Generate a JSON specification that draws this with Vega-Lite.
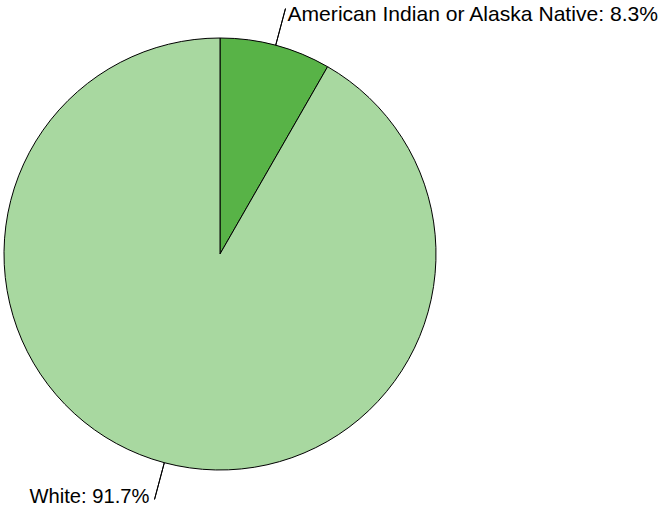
{
  "$schema": "https://vega.github.io/schema/vega-lite/v6.json",
  "autosize": "none",
  "width": 440,
  "height": 508,
  "padding": {"left": 0, "top": 0, "right": 221, "bottom": 0},
  "background": "white",
  "config": {"view": {"stroke": null}},
  "data": {
    "values": [
      {"category": "American Indian or Alaska Native", "percent": 8.3, "label": "American Indian or Alaska Native: 8.3%"},
      {"category": "White", "percent": 91.7, "label": "White: 91.7%"}
    ]
  },
  "transform": [
    {"stack": "percent", "groupby": [], "as": ["start", "end"], "sort": [{"field": "category", "order": "ascending"}]},
    {"calculate": "(datum.start + datum.end) / 2", "as": "mid"}
  ],
  "layer": [
    {
      "mark": {"type": "arc", "outerRadius": 216, "stroke": "black", "strokeWidth": 1},
      "encoding": {
        "theta": {"field": "start", "type": "quantitative", "scale": {"domain": [0, 100]}},
        "theta2": {"field": "end"},
        "color": {"field": "category", "type": "nominal", "legend": null,
          "scale": {"domain": ["American Indian or Alaska Native", "White"], "range": ["#58b347", "#a8d8a0"]}}
      }
    },
    {
      "mark": {"type": "arc", "innerRadius": 216, "outerRadius": 254, "stroke": "black", "strokeWidth": 1, "fillOpacity": 0},
      "encoding": {
        "theta": {"field": "mid", "type": "quantitative", "scale": {"domain": [0, 100]}},
        "theta2": {"field": "mid"}
      }
    },
    {
      "transform": [{"filter": "datum.category === 'American Indian or Alaska Native'"}],
      "mark": {"type": "text", "radius": 254, "align": "left", "baseline": "alphabetic", "dx": 2, "dy": 12.5, "fontSize": 21.1, "font": "Liberation Sans", "color": "black"},
      "encoding": {
        "theta": {"field": "mid", "type": "quantitative", "scale": {"domain": [0, 100]}},
        "text": {"field": "label"}
      }
    },
    {
      "transform": [{"filter": "datum.category === 'White'"}],
      "mark": {"type": "text", "radius": 254, "align": "right", "baseline": "alphabetic", "dx": -5, "dy": 3.5, "fontSize": 20.2, "font": "Liberation Sans", "color": "black"},
      "encoding": {
        "theta": {"field": "mid", "type": "quantitative", "scale": {"domain": [0, 100]}},
        "text": {"field": "label"}
      }
    }
  ]
}
